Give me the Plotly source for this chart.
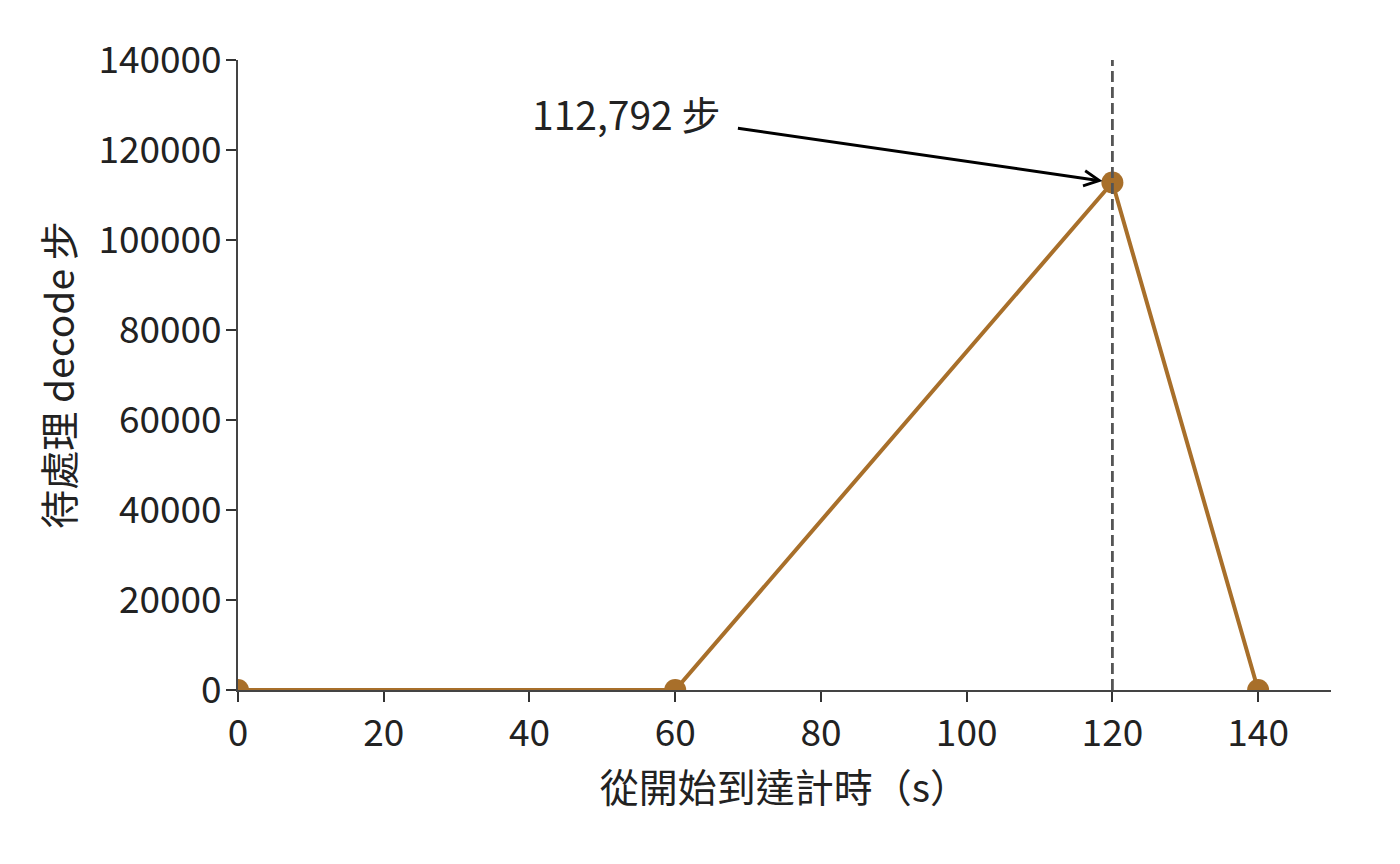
import plotly.graph_objects as go

# 資料
times = [0, 60, 120, 140]
pending_steps = [0, 0, 112792, 0]
peak_time = 120
peak_value = 112792
peak_label = "112,792 步"

x_ticks = [0, 20, 40, 60, 80, 100, 120, 140]
y_ticks = [0, 20000, 40000, 60000, 80000, 100000, 120000, 140000]

line_color = "#a86f2a"
text_color = "#222222"
font_family = "Noto Sans CJK TC, Noto Sans CJK SC, sans-serif"

fig = go.Figure()
fig.add_trace(go.Scatter(
    x=times, y=pending_steps, mode="lines+markers",
    line=dict(color=line_color, width=4),
    marker=dict(color=line_color, size=22),
    showlegend=False,
))

# 峰值虛線
fig.add_shape(type="line", x0=peak_time, x1=peak_time, y0=0, y1=1,
              xref="x", yref="paper", layer="above",
              line=dict(color="#555555", width=2.8, dash="11px,5px"))

# 箭頭
fig.add_annotation(x=peak_time, y=peak_value, ax=68.4, ay=124900,
                   xref="x", yref="y", axref="x", ayref="y",
                   text="", showarrow=True, arrowhead=5, arrowsize=1.0,
                   arrowwidth=3, arrowcolor="black", standoff=10)
fig.add_annotation(x=53.3, y=128200, xref="x", yref="y", text=peak_label,
                   showarrow=False, font=dict(size=39, color=text_color))

axis_common = dict(
    showgrid=False, zeroline=False, showline=True, linecolor="#444444",
    linewidth=2, ticks="outside", ticklen=10, tickwidth=2, tickcolor="#333333",
    tickfont=dict(size=37, color=text_color),
)

fig.update_xaxes(range=[0, 150], tickvals=x_ticks,
                 title=dict(text="從開始到達計時（s）", font=dict(size=39, color=text_color), standoff=6),
                 **axis_common)
fig.update_yaxes(range=[0, 140000], tickvals=y_ticks, tickformat="d", ticklabelstandoff=-3,
                 title=dict(text="待處理 decode 步", font=dict(size=39, color=text_color), standoff=12),
                 **axis_common)

fig.update_layout(
    width=1400, height=864,
    margin=dict(l=230, r=77, t=52, b=182),
    plot_bgcolor="white", paper_bgcolor="white",
    font=dict(family=font_family),
)

fig.write_html("out.html")
